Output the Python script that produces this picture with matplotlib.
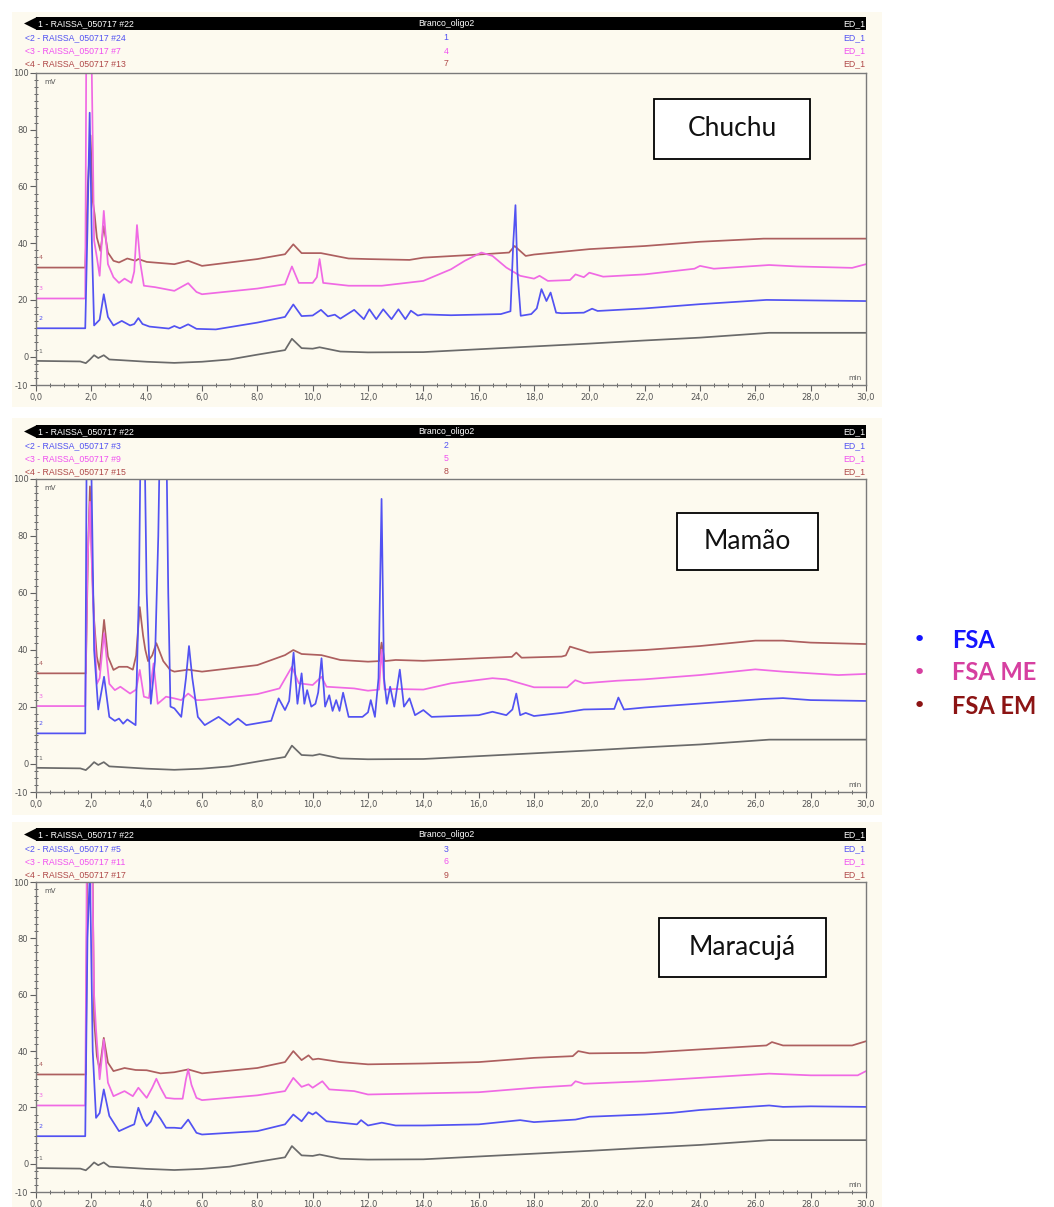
import matplotlib
matplotlib.use('Agg')
import matplotlib.pyplot as plt
from matplotlib.patches import Rectangle, Polygon
from matplotlib.ticker import FixedLocator, MultipleLocator

# pontos lidos dos cromatogramas: (tempo em min, sinal em mV)
# traço 1 (branco, #22) é o mesmo nos três painéis
BLANK = [(0, -1.5), (1.6, -1.7), (1.8, -2.3), (1.95, -1.0), (2.1, 0.5), (2.25, -0.5),
         (2.45, 0.5), (2.65, -1.0), (3.0, -1.2), (4.0, -1.8), (5.0, -2.2), (6.0, -1.8),
         (7.0, -1.0), (8.0, 0.7), (9.0, 2.3), (9.25, 6.3), (9.6, 3.0), (10.0, 2.8),
         (10.25, 3.3), (11.0, 1.8), (12.0, 1.5), (14.0, 1.6), (16.0, 2.6), (18.0, 3.6),
         (20.0, 4.6), (22.0, 5.7), (24.0, 6.7), (26.5, 8.4), (30.0, 8.4)]

CHUCHU_FSA = [(0, 10), (1.78, 10), (1.86, 45), (1.94, 86), (2.02, 40), (2.1, 11), (2.3, 13),
              (2.45, 22), (2.6, 14), (2.8, 11), (3.1, 12.6), (3.4, 11), (3.55, 11.5), (3.7, 13.6),
              (3.85, 11.5), (4.1, 10.6), (4.8, 9.9), (5.0, 10.8), (5.2, 10), (5.5, 11.4),
              (5.8, 9.8), (6.5, 9.6), (8.0, 12), (9.0, 14), (9.3, 18.4), (9.6, 14.3), (10.0, 14.5),
              (10.3, 16.5), (10.55, 14.2), (10.8, 14.8), (11.0, 13.4), (11.5, 16.5), (11.85, 13.2),
              (12.05, 16.7), (12.3, 13.2), (12.55, 16.7), (12.85, 13.2), (13.1, 16.7), (13.35, 13.2),
              (13.55, 16.2), (13.8, 14.5), (14.0, 14.9), (15.0, 14.6), (16.8, 15), (17.15, 16),
              (17.25, 40), (17.33, 53.4), (17.4, 30), (17.52, 14.4), (17.9, 15), (18.1, 17),
              (18.27, 23.8), (18.45, 19.6), (18.6, 22.6), (18.8, 15.5), (19.0, 15.3), (19.8, 15.5),
              (20.1, 16.9), (20.3, 16.1), (22.0, 17), (24.0, 18.5), (26.4, 20), (30.0, 19.6)]
CHUCHU_FSA_ME = [(0, 20.5), (1.78, 20.5), (1.83, 140), (1.96, 140), (2.1, 41), (2.2, 35),
                 (2.3, 28.5), (2.45, 51.4), (2.6, 32.6), (2.8, 28), (3.0, 26), (3.2, 27.5),
                 (3.45, 26), (3.55, 30), (3.65, 46.4), (3.77, 33), (3.9, 25), (4.3, 24.5),
                 (5.0, 23.2), (5.5, 25.9), (5.8, 22.8), (6.0, 22), (8.0, 24), (9.0, 25.5),
                 (9.25, 31.8), (9.5, 26), (10.0, 26), (10.15, 28), (10.25, 34.4), (10.38, 26),
                 (11.3, 25), (12.5, 25), (14.0, 26.7), (15.0, 30.8), (15.5, 33.8), (16.1, 36.7),
                 (16.5, 35.5), (17.0, 31.4), (17.5, 28.5), (18.0, 27.5), (18.2, 28.5), (18.5, 26.7),
                 (19.3, 27), (19.5, 29), (19.8, 28), (20.0, 29.6), (20.5, 28.2), (22.0, 29),
                 (23.8, 31), (24.0, 32), (24.5, 31), (26.5, 32.3), (27.5, 31.8), (29.5, 31.3),
                 (30.0, 32.6)]
CHUCHU_FSA_EM = [(0, 31.4), (1.78, 31.4), (1.87, 60), (1.97, 78), (2.05, 55), (2.12, 50),
                 (2.2, 42), (2.33, 37.3), (2.45, 46), (2.6, 36.7), (2.8, 33.8), (3.0, 33.2),
                 (3.3, 34.6), (3.6, 33.8), (3.7, 34.4), (4.0, 33.4), (5.0, 32.6), (5.5, 33.8),
                 (6.0, 32), (8.0, 34.4), (9.0, 36.1), (9.3, 39.6), (9.6, 36.5), (10.3, 36.5),
                 (11.3, 34.6), (12.0, 34.4), (13.5, 34.1), (14.0, 34.9), (16.0, 36), (17.1, 36.7),
                 (17.3, 39), (17.7, 35.5), (18.0, 36), (20.0, 37.9), (22.0, 39), (24.0, 40.5),
                 (26.3, 41.6), (30.0, 41.6)]

MAMAO_FSA = [(0, 10.6), (1.78, 10.6), (1.84, 130), (1.96, 130), (2.1, 40), (2.25, 19), (2.46, 30.5),
             (2.65, 16.4), (2.85, 15), (3.0, 15.8), (3.15, 14), (3.3, 15.5), (3.6, 13.5), (3.72, 60),
             (3.8, 130), (3.9, 130), (4.0, 60), (4.15, 21), (4.3, 36), (4.42, 80), (4.52, 140),
             (4.68, 140), (4.78, 60), (4.86, 20), (5.0, 19.4), (5.25, 16.4), (5.42, 30), (5.53, 41.3),
             (5.65, 30), (5.85, 16.4), (6.1, 13.5), (6.6, 16.4), (7.0, 13.5), (7.3, 15.8), (7.6, 13.5),
             (8.5, 15), (8.77, 22.9), (9.0, 18.8), (9.15, 22), (9.31, 39), (9.45, 21), (9.6, 31.7),
             (9.7, 21), (9.8, 25.8), (9.95, 20), (10.1, 21), (10.2, 25), (10.32, 37), (10.45, 20),
             (10.6, 24), (10.72, 18.5), (10.85, 22.3), (10.97, 18.5), (11.1, 24.9), (11.3, 16.4),
             (11.8, 16.4), (12.0, 18), (12.1, 22.3), (12.25, 16.4), (12.38, 30), (12.49, 93),
             (12.58, 30), (12.68, 21), (12.8, 27), (12.95, 20), (13.15, 33), (13.3, 20), (13.5, 22.9),
             (13.7, 17), (14.0, 18.8), (14.3, 16.4), (16.0, 17), (16.5, 18.2), (17.0, 17), (17.22, 19),
             (17.36, 24.6), (17.5, 17), (17.7, 17.8), (18.0, 16.7), (19.0, 17.8), (19.8, 19),
             (20.9, 19.2), (21.05, 23.2), (21.25, 19), (22.0, 19.7), (24.0, 21.1), (26.3, 22.7),
             (27.0, 23), (28.0, 22.3), (30.0, 22)]
MAMAO_FSA_ME = [(0, 20.2), (1.78, 20.2), (1.86, 70), (1.95, 92), (2.05, 60), (2.2, 28), (2.3, 30),
                (2.46, 45.8), (2.65, 28), (2.85, 25.8), (3.05, 27), (3.4, 24.6), (3.62, 26),
                (3.75, 32.9), (3.9, 23.5), (4.08, 23), (4.25, 35.2), (4.4, 21), (4.7, 23.5),
                (5.0, 22.9), (5.25, 22.3), (5.5, 24.6), (5.8, 22.3), (6.0, 22.3), (8.0, 24.4),
                (8.8, 26.4), (9.25, 34), (9.5, 28.2), (10.0, 27.6), (10.32, 30.5), (10.5, 27),
                (11.5, 26.4), (12.0, 25.6), (12.4, 26), (12.49, 40), (12.6, 26), (13.0, 26.2),
                (14.0, 26), (15.0, 28.2), (16.5, 30), (17.0, 29.6), (17.5, 28.2), (18.0, 26.8),
                (19.2, 26.8), (19.49, 29.3), (19.8, 28.2), (21.0, 29.1), (22.0, 29.6), (24.0, 31.1),
                (26.0, 33.1), (27.0, 32.3), (29.0, 31.1), (30.0, 31.5)]
MAMAO_FSA_EM = [(0, 31.7), (1.8, 31.7), (1.88, 75), (1.95, 97.4), (2.03, 68), (2.1, 50.5),
                (2.2, 37.6), (2.3, 32.9), (2.46, 50.5), (2.6, 37.6), (2.8, 32.9), (3.0, 34),
                (3.3, 34), (3.5, 33), (3.62, 38), (3.75, 55), (3.87, 45), (3.95, 40), (4.05, 36),
                (4.2, 38), (4.35, 42.3), (4.6, 36), (4.85, 32.9), (5.0, 32.3), (5.5, 33), (6.0, 32.3),
                (8.0, 34.6), (9.0, 38.1), (9.3, 39.9), (9.6, 38.5), (10.32, 38.1), (11.0, 36.4),
                (12.0, 35.8), (12.4, 36), (12.49, 42.5), (12.6, 36), (13.0, 36.4), (14.0, 36.1),
                (16.0, 37), (17.2, 37.5), (17.36, 39), (17.55, 37.2), (19.0, 37.6), (19.15, 38),
                (19.3, 41.1), (19.7, 39.9), (20.0, 39), (22.0, 39.9), (24.0, 41.3), (26.0, 43.2),
                (27.0, 43.2), (28.0, 42.5), (30.0, 42)]

MARACUJA_FSA = [(0, 9.8), (1.78, 9.8), (1.86, 80), (1.95, 105), (2.05, 40), (2.17, 16.3), (2.3, 18),
                (2.45, 26.4), (2.65, 17), (3.0, 11.6), (3.4, 13.4), (3.55, 14), (3.7, 19.9),
                (3.85, 16), (4.0, 13.4), (4.15, 15), (4.3, 18.7), (4.5, 16), (4.7, 12.8), (5.0, 12.8),
                (5.25, 12.6), (5.5, 15.7), (5.8, 11), (6.0, 10.4), (8.0, 11.6), (9.0, 14), (9.3, 17.5),
                (9.6, 15.1), (9.85, 18.3), (10.0, 17.5), (10.12, 18.3), (10.5, 15.1), (11.0, 14.6),
                (11.6, 14), (11.75, 15.5), (12.0, 13.6), (12.5, 14.6), (13.0, 13.6), (14.0, 13.6),
                (16.0, 14), (17.5, 15.5), (18.0, 14.8), (19.5, 15.7), (20.0, 16.7), (22.0, 17.5),
                (23.0, 18.1), (24.0, 19.1), (26.5, 20.7), (27.0, 20.2), (28.0, 20.4), (30.0, 20.2)]
MARACUJA_FSA_ME = [(0, 20.7), (1.78, 20.7), (1.85, 130), (2.0, 130), (2.1, 60), (2.17, 47.7),
                   (2.3, 30), (2.45, 44.1), (2.6, 28.8), (2.8, 24), (3.2, 25.8), (3.5, 24), (3.7, 27),
                   (4.0, 23.4), (4.2, 27), (4.35, 30.2), (4.5, 27), (4.7, 23.4), (5.0, 23.1),
                   (5.3, 23.1), (5.42, 30), (5.5, 33.5), (5.62, 28), (5.8, 23.4), (6.0, 22.6),
                   (8.0, 24.3), (9.0, 25.8), (9.3, 30.5), (9.6, 27.3), (9.85, 28.2), (10.0, 27),
                   (10.35, 29.3), (10.6, 26.4), (11.5, 25.8), (12.0, 24.6), (14.0, 25), (16.0, 25.4),
                   (18.0, 27), (19.35, 27.8), (19.5, 29.3), (19.8, 28.4), (22.0, 29.3), (24.0, 30.5),
                   (26.5, 32), (28.0, 31.4), (29.7, 31.4), (30.0, 32.9)]
MARACUJA_FSA_EM = [(0, 31.7), (1.8, 31.7), (1.87, 130), (2.02, 130), (2.1, 51), (2.2, 38.2),
                   (2.3, 33.5), (2.45, 44.7), (2.6, 35.9), (2.8, 32.9), (3.2, 34), (3.6, 33.3),
                   (4.0, 33.2), (4.5, 32.1), (5.0, 32.5), (5.5, 33.5), (6.0, 32.1), (8.0, 34),
                   (9.0, 36.1), (9.3, 40), (9.6, 36.8), (9.85, 38.5), (10.0, 37), (10.2, 37.3),
                   (11.0, 36.1), (12.0, 35.3), (14.0, 35.6), (16.0, 36.1), (18.0, 37.6), (19.4, 38.2),
                   (19.6, 40), (20.0, 39.2), (22.0, 39.4), (24.0, 40.6), (26.4, 42), (26.6, 43.2),
                   (27.0, 42), (29.5, 42), (30.0, 43.5)]

TITLES = ['Chuchu', 'Mamão', 'Maracujá']
SAMPLE_IDS = [['#24', '#7', '#13'], ['#3', '#9', '#15'], ['#5', '#11', '#17']]
SAMPLE_NUMS = [['1', '4', '7'], ['2', '5', '8'], ['3', '6', '9']]
LEGEND_LABELS = ['FSA', 'FSA ME', 'FSA EM']
X_TICKS = list(range(0, 31, 2))
X_TICK_LABELS = ['%d,0' % v for v in X_TICKS]
Y_TICKS = [-10, 0, 20, 40, 60, 80, 100]

TRACES = [
    [BLANK, CHUCHU_FSA_EM, CHUCHU_FSA_ME, CHUCHU_FSA],
    [BLANK, MAMAO_FSA_EM, MAMAO_FSA_ME, MAMAO_FSA],
    [BLANK, MARACUJA_FSA_EM, MARACUJA_FSA_ME, MARACUJA_FSA],
]
TRACE_NUMS = ['1', '4', '3', '2']
TRACE_COLORS = ['#6a6a6a', '#ad5f5f', '#f069e4', '#5252f2']
ROW_COLORS = ['#5252f2', '#f050f0', '#b04848']
LEGEND_COLORS = ['#1414ff', '#d63fa0', '#8c1414']

plt.rcParams['font.family'] = ['DejaVu Sans']

W, H = 1054, 1207
fig = plt.figure(figsize=(W / 100, H / 100), dpi=100)


def fx(px):
    return px / W


def fy(py):
    return 1 - py / H


def fig_rect(x0, y0, x1, y1, **kw):
    r = Rectangle((fx(x0), fy(y1)), (x1 - x0) / W, (y1 - y0) / H, transform=fig.transFigure, **kw)
    fig.patches.append(r)


# topo creme, fundo creme, barra preta, topo eixo, base eixo, caixa do título
LAYOUT = [
    (12, 407, 17, 73, 385, (654, 99, 810, 159)),
    (418, 815, 425, 479, 792, (677, 513, 818, 570)),
    (822, 1207, 828, 882, 1192, (659, 918, 826, 977)),
]
AX_L, AX_R = 36, 866
CREAM = '#fdfaef'
hdr = dict(fontsize=6.3, family='Liberation Sans', va='center')

for i, (c0, c1, bar, top, bot, box) in enumerate(LAYOUT):
    fig_rect(12, c0, 882, c1, facecolor=CREAM, edgecolor='none', zorder=-1)
    fig_rect(AX_L, bar, AX_R, bar + 13, facecolor='black', edgecolor='none')
    fig.patches.append(Polygon([(fx(24), fy(bar + 6.5)), (fx(AX_L + 1), fy(bar)),
                                (fx(AX_L + 1), fy(bar + 13))], closed=True,
                               transform=fig.transFigure, facecolor='black', edgecolor='none'))
    ty = bar + 6.5
    fig.text(fx(AX_L + 2), fy(ty), '1 - RAISSA_050717 #22', color='white', **hdr)
    fig.text(fx(446), fy(ty), 'Branco_oligo2', color='white', ha='center', **hdr)
    fig.text(fx(AX_R - 1), fy(ty), 'ED_1', color='white', ha='right', **hdr)
    for k in range(3):
        ry = bar + 21 + k * 13
        fig.text(fx(25), fy(ry), '<%d - RAISSA_050717 %s' % (k + 2, SAMPLE_IDS[i][k]),
                 color=ROW_COLORS[k], **hdr)
        fig.text(fx(446), fy(ry), SAMPLE_NUMS[i][k], color=ROW_COLORS[k], ha='center', **hdr)
        fig.text(fx(AX_R - 1), fy(ry), 'ED_1', color=ROW_COLORS[k], ha='right', **hdr)

    ax = fig.add_axes([fx(AX_L), fy(bot), (AX_R - AX_L) / W, (bot - top) / H])
    ax.set_facecolor(CREAM)
    for pts, color, num in zip(TRACES[i], TRACE_COLORS, TRACE_NUMS):
        xs, ys = zip(*pts)
        ax.plot(xs, ys, color=color, lw=1.25, solid_joinstyle='round')
        ax.text(0.1, ys[0] + 2.5, num, color=color, fontsize=4.5, va='bottom')
    ax.set_xlim(0, 30)
    ax.set_ylim(-10, 100)
    ax.xaxis.set_major_locator(FixedLocator(X_TICKS))
    ax.set_xticklabels(X_TICK_LABELS)
    ax.xaxis.set_minor_locator(MultipleLocator(0.5))
    ax.yaxis.set_major_locator(FixedLocator(Y_TICKS))
    ax.set_yticklabels([str(v) for v in Y_TICKS])
    ax.yaxis.set_minor_locator(MultipleLocator(2.5))
    ax.tick_params(which='major', direction='out', length=4, width=0.8, color='#606060',
                   labelsize=6, labelcolor='#555555', pad=1.5)
    ax.tick_params(which='minor', direction='inout', length=3, width=0.7, color='#606060')
    for s in ax.spines.values():
        s.set_color('#7a7a7a')
        s.set_linewidth(1.0)
    ax.text(29.85, -8.6, 'min', fontsize=5, color='#555555', ha='right', va='bottom')
    ax.text(0.3, 98, 'mV', fontsize=5, color='#555555', va='top')

    bx0, by0, bx1, by1 = box
    fig_rect(bx0, by0, bx1, by1, facecolor='white', edgecolor='black', lw=1.3, zorder=4)
    fig.text(fx((bx0 + bx1) / 2), fy((by0 + by1) / 2), TITLES[i], family='Lato', fontsize=19,
             ha='center', va='center', color='#111111', zorder=5)

for k, (lab, col) in enumerate(zip(LEGEND_LABELS, LEGEND_COLORS)):
    ly = 640 + k * 33
    fig.text(fx(919), fy(ly), '•', color=col, fontsize=16, ha='center', va='center')
    fig.text(fx(952), fy(ly), lab, color=col, fontsize=17, family='Lato', weight='bold',
             va='center')

fig.savefig('out.png', dpi=100, facecolor='white')
